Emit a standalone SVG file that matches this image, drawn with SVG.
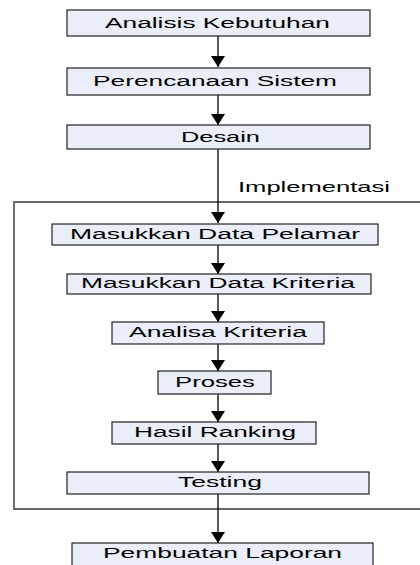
<svg xmlns="http://www.w3.org/2000/svg" width="420" height="565" viewBox="0 0 420 565">
<style>
.box{fill:#e9eef8;stroke:#222;stroke-width:1.2}
.t{font-family:"Liberation Sans",Arial,sans-serif;font-size:14px;fill:#000}
.c{stroke:#000;stroke-width:1.3;fill:none;marker-end:url(#ah)}
</style>
<defs>
<marker id="ah" markerUnits="userSpaceOnUse" markerWidth="11" markerHeight="14" refX="11" refY="7" orient="auto" viewBox="0 0 11 14">
<path d="M0,0 L11,7 L0,14 Z" fill="#000"/>
</marker>
</defs>
<rect width="420" height="565" fill="#fff"/>
<g id="frame">
<path d="M421,202 H14 V509 H421" fill="none" stroke="#333" stroke-width="1.4"/>
<text class="t" transform="translate(238,192) scale(1.85,1)" textLength="82.2" lengthAdjust="spacingAndGlyphs" style="font-size:15px">Implementasi</text>
</g>
<g id="connectors">
<path class="c" d="M218,36 V67"/>
<path class="c" d="M218,95 V125"/>
<path class="c" d="M218,149 V223"/>
<path class="c" d="M218,245 V274"/>
<path class="c" d="M218,294 V322"/>
<path class="c" d="M218,344 V371"/>
<path class="c" d="M218,394 V422"/>
<path class="c" d="M218,444 V472"/>
<path class="c" d="M218,494 V543"/>
</g>
<g id="n1"><rect class="box" x="67" y="10" width="303" height="26"/><text class="t" transform="translate(105,28) scale(1.85,1)" textLength="121.6" lengthAdjust="spacingAndGlyphs">Analisis Kebutuhan</text></g>
<g id="n2"><rect class="box" x="67" y="68" width="303" height="27"/><text class="t" transform="translate(93,86) scale(1.85,1)" textLength="131.9" lengthAdjust="spacingAndGlyphs">Perencanaan Sistem</text></g>
<g id="n3"><rect class="box" x="67" y="125" width="303" height="24"/><text class="t" transform="translate(181,142) scale(1.85,1)" textLength="42.7" lengthAdjust="spacingAndGlyphs">Desain</text></g>
<g id="n4"><rect class="box" x="52" y="224" width="326" height="21"/><text class="t" transform="translate(70,239) scale(1.85,1)" textLength="156.8" lengthAdjust="spacingAndGlyphs">Masukkan Data Pelamar</text></g>
<g id="n5"><rect class="box" x="67" y="274" width="304" height="20"/><text class="t" transform="translate(81,288) scale(1.85,1)" textLength="148.1" lengthAdjust="spacingAndGlyphs">Masukkan Data Kriteria</text></g>
<g id="n6"><rect class="box" x="112" y="322" width="212" height="22"/><text class="t" transform="translate(129,337) scale(1.85,1)" textLength="96.2" lengthAdjust="spacingAndGlyphs">Analisa Kriteria</text></g>
<g id="n7"><rect class="box" x="158" y="371" width="113" height="23"/><text class="t" transform="translate(175,387) scale(1.85,1)" textLength="43.2" lengthAdjust="spacingAndGlyphs">Proses</text></g>
<g id="n8"><rect class="box" x="112" y="422" width="204" height="22"/><text class="t" transform="translate(134,437) scale(1.85,1)" textLength="87.6" lengthAdjust="spacingAndGlyphs">Hasil Ranking</text></g>
<g id="n9"><rect class="box" x="67" y="472" width="302" height="22"/><text class="t" transform="translate(178,487) scale(1.85,1)" textLength="45.4" lengthAdjust="spacingAndGlyphs">Testing</text></g>
<g id="n10"><rect class="box" x="72" y="543" width="301" height="26"/><text class="t" transform="translate(103,558) scale(1.85,1)" textLength="129.2" lengthAdjust="spacingAndGlyphs">Pembuatan Laporan</text></g>
</svg>
